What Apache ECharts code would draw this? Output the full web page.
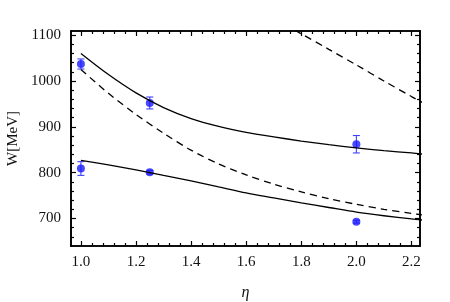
<!DOCTYPE html>
<html><head><meta charset="utf-8">
<script src="https://cdn.jsdelivr.net/npm/echarts@6/dist/echarts.min.js"></script>
<style>html,body{margin:0;padding:0;background:#fff}#c{width:450px;height:302px}</style>
</head><body><div id="c"></div>
<script>
// ---- data ----
const curveEta = [1.0,1.1,1.2,1.3,1.4,1.5,1.6,1.7,1.8,1.9,2.0,2.1,2.2,2.25];
const upperSolid = [1060,1014,974,942,918,901,888,878,869,861,854,848,843,840];
const lowerSolid = [827,817,806,794,782,769,756,745,734,724,714,706,699,696];
const midDashed  = [1025,973,927,886,849,819,795,775,758,743,731,720,711,707];
const topDashedEta = [1.7,1.8,1.9,2.0,2.1,2.2,2.25];
const topDashed    = [1136,1103,1069,1035,1000,966,950];
const ptEta = [1.0,1.25,2.0,1.0,1.25,2.0];
const ptW   = [1037,952,862,809,801,693];
const ptErr = [11,13,19,15,4,3];
const xTicks = [1.0,1.2,1.4,1.6,1.8,2.0,2.2];
const yTicks = [700,800,900,1000,1100];
const xName = 'η', yName = 'W[MeV]';

const xMin = 0.964, xMax = 2.231, yMin = 640, yMax = 1109;
const xMinor = [], yMinor = [];
for (let i = 0; i <= 35; i++) { const v = +(0.96 + i*0.04).toFixed(2); if (v > xMin && v < xMax && !xTicks.some(t=>Math.abs(t-v)<1e-6)) xMinor.push(v); }
for (let v = 640; v <= 1100; v += 20) { if (v > yMin && v < yMax && v % 100 !== 0) yMinor.push(v); }

const font = "'Liberation Serif', 'Times New Roman', serif";
function xAx(pos, ticks, len, labels) {
  return { type:'value', position:pos, min:xMin, max:xMax, gridIndex:0,
    axisLine:{show:true,onZero:false,lineStyle:{color:'#000',width:1.6}},
    axisTick:{show:true,inside:true,length:len,customValues:ticks,lineStyle:{color:'#000',width:1.2}},
    axisLabel:{show:!!labels,customValues:xTicks,color:'#111',fontFamily:font,fontSize:15,margin:9,
      formatter:v=>v.toFixed(1)},
    splitLine:{show:false},
    name: labels ? xName : '', nameLocation:'middle', nameGap:39,
    nameTextStyle:{fontFamily:font,fontStyle:'italic',fontSize:16,color:'#111'} };
}
function yAx(pos, ticks, len, labels) {
  return { type:'value', position:pos, min:yMin, max:yMax, gridIndex:0,
    axisLine:{show:true,onZero:false,lineStyle:{color:'#000',width:1.6}},
    axisTick:{show:true,inside:true,length:len,customValues:ticks,lineStyle:{color:'#000',width:1.2}},
    axisLabel:{show:!!labels,customValues:yTicks,color:'#111',fontFamily:font,fontSize:15,margin:10,
      formatter:v=>String(v)},
    splitLine:{show:false},
    name: labels ? yName : '', nameLocation:'middle', nameGap:50,
    nameTextStyle:{fontFamily:font,fontSize:15,color:'#111'} };
}
const chart = echarts.init(document.getElementById('c'));
const line = (xs, ys, dashed) => ({ type:'line', xAxisIndex:0, yAxisIndex:0, data: xs.map((x,i)=>[x,ys[i]]),
  showSymbol:false, smooth:0.3, clip:true, silent:true,
  lineStyle:{color:'#000',width:1.3,type: dashed ? [7,5] : 'solid'} });
chart.setOption({
  animation:false,
  grid:{left:71,right:30,top:31,bottom:56,containLabel:false,outerBoundsMode:'none'},
  xAxis:[xAx('bottom',xTicks,5,true), xAx('bottom',xMinor,3,false), xAx('top',xTicks,5,false), xAx('top',xMinor,3,false)],
  yAxis:[yAx('left',yTicks,5,true), yAx('left',yMinor,3,false), yAx('right',yTicks,5,false), yAx('right',yMinor,3,false)],
  series:[
    line(curveEta, upperSolid, false),
    line(curveEta, lowerSolid, false),
    line(curveEta, midDashed, true),
    line(topDashedEta, topDashed, true),
    { type:'custom', xAxisIndex:0, yAxisIndex:0, silent:true,
      data: ptEta.map((x,i)=>[x, ptW[i], ptErr[i]]),
      renderItem:(params, api)=>{
        const x = api.value(0), y = api.value(1), e = api.value(2);
        const top = api.coord([x, y+e]), bot = api.coord([x, y-e]);
        const s = {stroke:'#4040ff', lineWidth:1.1};
        return {type:'group', children:[
          {type:'line', shape:{x1:top[0],y1:top[1],x2:bot[0],y2:bot[1]}, style:s},
          {type:'line', shape:{x1:top[0]-3.5,y1:top[1],x2:top[0]+3.5,y2:top[1]}, style:s},
          {type:'line', shape:{x1:bot[0]-3.5,y1:bot[1],x2:bot[0]+3.5,y2:bot[1]}, style:s}
        ]};
      } },
    { type:'scatter', xAxisIndex:0, yAxisIndex:0, data: ptEta.map((x,i)=>[x, ptW[i]]),
      symbol:'circle', symbolSize:8, itemStyle:{color:'#1a1aff'}, silent:true }
  ]
});
</script></body></html>
